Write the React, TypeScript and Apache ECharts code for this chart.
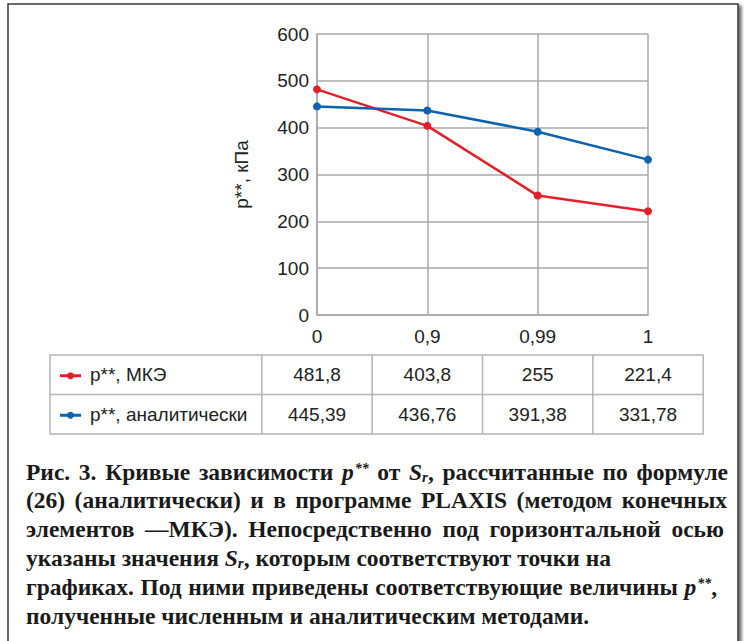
import React, { useEffect, useRef } from "react";
import * as echarts from "echarts";

const categories = ["0", "0,9", "0,99", "1"];
const seriesNames = ["p**, МКЭ", "p**, аналитически"];
const femValues = [481.8, 403.8, 255, 221.4];
const analyticValues = [445.39, 436.76, 391.38, 331.78];
const seriesColors = ["#e2202b", "#0b62ad"];
const yAxisName = "p**, кПа";
const captionLines = [
  "Рис. 3. Кривые зависимости {i|p}{sup|**} от {i|S}{sub|r}, рассчитанные по формуле",
  "(26) (аналитически) и в программе PLAXIS (методом конечных",
  "элементов —МКЭ). Непосредственно под горизонтальной осью",
  "указаны значения {i|S}{sub|r}, которым соответствуют точки на",
  "графиках. Под ними приведены соответствующие величины {i|p}{sup|**},",
  "полученные численным и аналитическим методами.",
];
// right edge each caption line is justified to (null = ragged)
const captionRight: (number | null)[] = [728, 727, 724, null, 717, null];

const W = 744;
const H = 641;
const GRID_LEFT = 317;
const GRID_RIGHT = 648;
const GRID_TOP = 34;
const GRID_BOTTOM = 315;

const fmt = (v: number) => String(v).replace(".", ",");

const SERIF = "Liberation Serif";
const CAP_SIZE = 23.5;
const styleDefs: Record<string, { size: number; italic: boolean; padL: number }> = {
  b: { size: CAP_SIZE, italic: false, padL: 0 },
  i: { size: CAP_SIZE, italic: true, padL: 0 },
  sup: { size: 14, italic: true, padL: 1 },
  sub: { size: 15, italic: true, padL: 0 },
};

function parseWord(word: string): { s: string; t: string }[] {
  const out: { s: string; t: string }[] = [];
  const re = /\{(\w+)\|([^}]*)\}/g;
  let last = 0;
  let m: RegExpExecArray | null;
  while ((m = re.exec(word))) {
    if (m.index > last) out.push({ s: "b", t: word.slice(last, m.index) });
    out.push({ s: m[1], t: m[2] });
    last = re.lastIndex;
  }
  if (last < word.length) out.push({ s: "b", t: word.slice(last) });
  return out;
}

export default function App() {
  const ref = useRef<HTMLDivElement>(null);
  useEffect(() => {
    if (!ref.current) return;
    const chart = echarts.init(ref.current, undefined, { renderer: "svg" });
    const sans = "Liberation Sans, Arial, sans-serif";
    const serif = `${SERIF}, Times New Roman, serif`;
    const canvas = document.createElement("canvas");
    const ctx = canvas.getContext("2d")!;
    const measure = (s: string, t: string) => {
      const d = styleDefs[s];
      ctx.font = `${d.italic ? "italic " : ""}bold ${d.size}px "${SERIF}"`;
      return ctx.measureText(t).width + d.padL;
    };

    const step = (GRID_RIGHT - GRID_LEFT) / (categories.length - 1);
    const tableLeft = 50;
    const colLeft = GRID_LEFT - step / 2;
    const tableRight = GRID_RIGHT + step / 2;
    const tableTop = 355;
    const rowH = 39.5;
    const gray = "#b4b4b4";
    const graphic: any[] = [];
    graphic.push({
      type: "rect",
      shape: { x: 8, y: 4, width: 730, height: 650 },
      style: {
        fill: "#fff",
        stroke: "#3a3a3a",
        lineWidth: 1.5,
        shadowColor: "rgba(0,0,0,0.55)",
        shadowBlur: 3,
        shadowOffsetX: 3,
        shadowOffsetY: 2,
      },
      z: -10,
    });
    graphic.push({
      type: "rect",
      shape: { x: tableLeft, y: tableTop, width: tableRight - tableLeft, height: rowH * 2 },
      style: { fill: "none", stroke: gray, lineWidth: 1.5 },
    });
    graphic.push({
      type: "line",
      shape: { x1: tableLeft, y1: tableTop + rowH, x2: tableRight, y2: tableTop + rowH },
      style: { stroke: gray, lineWidth: 1.5 },
    });
    for (let c = 0; c < categories.length; c++) {
      const x = colLeft + c * step;
      graphic.push({
        type: "line",
        shape: { x1: x, y1: tableTop, x2: x, y2: tableTop + rowH * 2 },
        style: { stroke: gray, lineWidth: 1.5 },
      });
    }
    const rows = [femValues, analyticValues];
    rows.forEach((vals, r) => {
      const cy = tableTop + rowH * r + rowH / 2;
      graphic.push({
        type: "line",
        shape: { x1: 60, y1: cy + 1, x2: 81, y2: cy + 1 },
        style: { stroke: seriesColors[r], lineWidth: 3 },
      });
      graphic.push({
        type: "circle",
        shape: { cx: 70.5, cy: cy + 1, r: 3.5 },
        style: { fill: seriesColors[r] },
      });
      graphic.push({
        type: "text",
        x: 90,
        y: cy,
        style: {
          text: seriesNames[r],
          font: `19px ${sans}`,
          fill: "#222",
          textAlign: "left",
          textVerticalAlign: "middle",
        },
      });
      vals.forEach((v, c) => {
        graphic.push({
          type: "text",
          x: GRID_LEFT + c * step,
          y: cy,
          style: {
            text: fmt(v),
            font: `19px ${sans}`,
            fill: "#222",
            textAlign: "center",
            textVerticalAlign: "middle",
          },
        });
      });
    });

    // caption, word by word so justified lines can be spread
    const base = { fontFamily: serif, fontWeight: "bold", fontSize: CAP_SIZE, lineHeight: 30, fill: "#1a1a1a" };
    const rich = {
      b: { ...base },
      i: { ...base, fontStyle: "italic" },
      sup: { ...base, fontStyle: "italic", fontSize: styleDefs.sup.size, lineHeight: 14, verticalAlign: "top", padding: [5, 0, 0, 1] },
      sub: { ...base, fontStyle: "italic", fontSize: styleDefs.sub.size, lineHeight: 15, verticalAlign: "bottom", padding: [0, 0, 2, 0] },
    };
    const capLeft = 26;
    const spaceW = measure("b", " ");
    captionLines.forEach((line, k) => {
      const words = line.split(" ").map(parseWord);
      const widths = words.map((segs) => segs.reduce((a, g) => a + measure(g.s, g.t), 0));
      const total = widths.reduce((a, b) => a + b, 0);
      const right = captionRight[k];
      const gap = right != null && words.length > 1 ? (right - capLeft - total) / (words.length - 1) : spaceW;
      let x = capLeft;
      const y = 471.5 + k * 28.8;
      words.forEach((segs, wi) => {
        graphic.push({
          type: "text",
          x,
          y,
          style: {
            text: segs.map((g) => `{${g.s}|${g.t}}`).join(""),
            rich,
            textAlign: "left",
            textVerticalAlign: "middle",
          },
        });
        x += widths[wi] + gap;
      });
    });

    chart.setOption({
      animation: false,
      backgroundColor: "#fff",
      grid: {
        left: GRID_LEFT,
        right: W - GRID_RIGHT,
        top: GRID_TOP,
        bottom: H - GRID_BOTTOM,
        containLabel: false,
      },
      xAxis: {
        type: "category",
        data: categories,
        boundaryGap: false,
        axisLine: { show: true, lineStyle: { color: "#a8a8a8", width: 1.5 } },
        axisTick: { show: false },
        axisLabel: { color: "#222", fontSize: 19, fontFamily: sans, margin: 12 },
        splitLine: { show: true, lineStyle: { color: "#a8a8a8", width: 1.5 } },
      },
      yAxis: {
        type: "value",
        min: 0,
        max: 600,
        interval: 100,
        name: yAxisName,
        nameLocation: "middle",
        nameGap: 66,
        nameRotate: 90,
        nameTextStyle: { color: "#222", fontSize: 19, fontFamily: sans },
        axisLine: { show: true, lineStyle: { color: "#a8a8a8", width: 1.5 } },
        axisTick: { show: false },
        axisLabel: { color: "#222", fontSize: 19, fontFamily: sans, margin: 8 },
        splitLine: { show: true, lineStyle: { color: "#a8a8a8", width: 1.5 } },
      },
      series: [
        {
          name: seriesNames[0],
          type: "line",
          data: femValues,
          symbol: "circle",
          symbolSize: 8,
          lineStyle: { color: seriesColors[0], width: 2.5 },
          itemStyle: { color: seriesColors[0] },
          z: 3,
        },
        {
          name: seriesNames[1],
          type: "line",
          data: analyticValues,
          symbol: "circle",
          symbolSize: 8,
          lineStyle: { color: seriesColors[1], width: 2.5 },
          itemStyle: { color: seriesColors[1] },
          z: 4,
        },
      ],
      graphic: { elements: graphic },
    });
    return () => chart.dispose();
  }, []);
  return (
    <div
      ref={ref}
      style={{ position: "absolute", left: 0, top: 0, width: W, height: H }}
    />
  );
}
